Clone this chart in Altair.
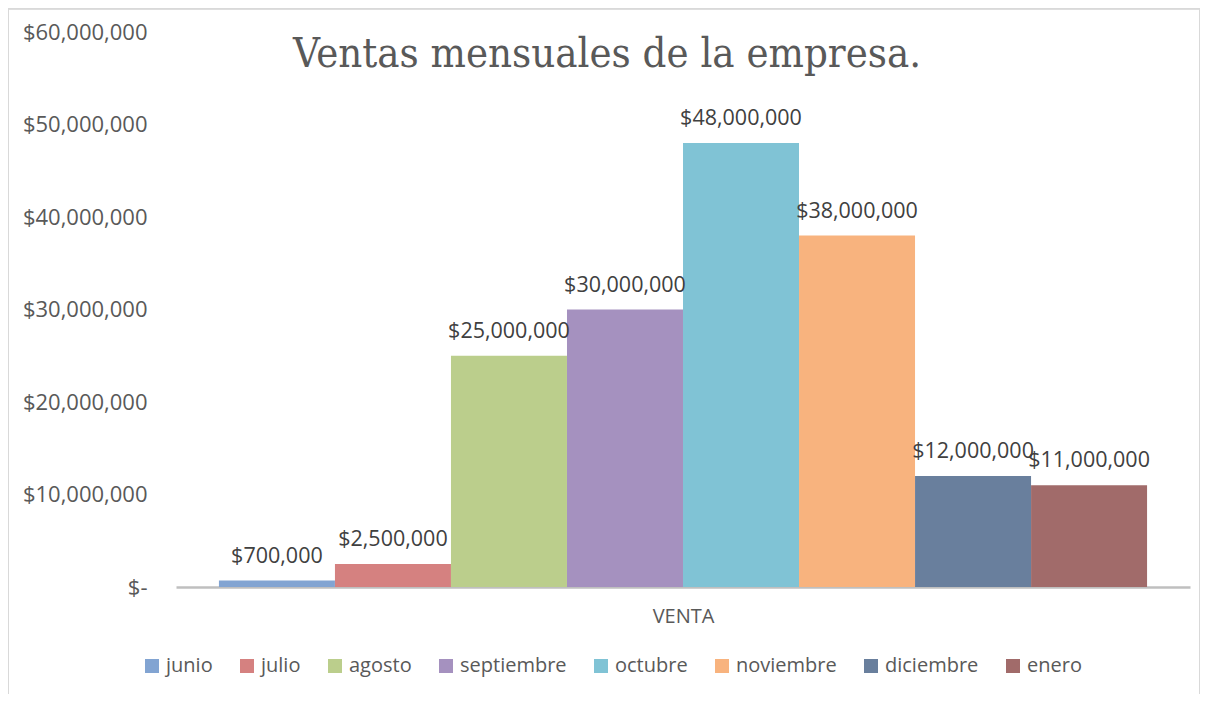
import altair as alt
import pandas as pd

months = ["junio", "julio", "agosto", "septiembre", "octubre", "noviembre", "diciembre", "enero"]
sales = [700000, 2500000, 25000000, 30000000, 48000000, 38000000, 12000000, 11000000]
labels = ["$700,000", "$2,500,000", "$25,000,000", "$30,000,000", "$48,000,000",
          "$38,000,000", "$12,000,000", "$11,000,000"]
colors = ["#82A4D2", "#D58180", "#BBCE8C", "#A591BF", "#80C3D5", "#F8B37E", "#697F9D", "#A16B6A"]
y_ticks = [0, 10000000, 20000000, 30000000, 40000000, 50000000, 60000000]

df = pd.DataFrame({"mes": months, "venta": sales, "etiqueta": labels})

FONT = "Open Sans"
GREY = "#595959"

x_enc = alt.X(
    "mes:N",
    sort=months,
    scale=alt.Scale(paddingInner=0, paddingOuter=0.37),
    axis=alt.Axis(
        title="VENTA", labels=False, ticks=False,
        domainColor="#BFBFBF", domainWidth=2.5,
        titleFont=FONT, titleFontSize=20, titleFontWeight="normal",
        titleColor=GREY, titlePadding=19,
    ),
)
y_enc = alt.Y(
    "venta:Q",
    scale=alt.Scale(domain=[0, 60000000], nice=False),
    axis=alt.Axis(
        title=None, values=y_ticks, grid=False, domain=False, ticks=False,
        labelFont=FONT, labelFontSize=22, labelColor=GREY, labelPadding=29,
        labelExpr="datum.value == 0 ? '$-' : '$' + format(datum.value, ',')",
    ),
)

bars = alt.Chart(df).mark_bar(size=116).encode(
    x=x_enc,
    y=y_enc,
    color=alt.Color(
        "mes:N",
        sort=months,
        scale=alt.Scale(domain=months, range=colors),
        legend=alt.Legend(
            title=None, orient="none", legendX=-34, legendY=624,
            direction="horizontal", symbolType="square", symbolSize=196,
            symbolStrokeWidth=0, labelFont=FONT, labelFontSize=20,
            labelColor=GREY, labelOffset=4, columnPadding=24,
        ),
    ),
)

text = alt.Chart(df).mark_text(
    baseline="bottom", dy=-13, font=FONT, fontSize=21.5, color="#404040"
).encode(
    x=alt.X("mes:N", sort=months),
    y="venta:Q",
    text="etiqueta:N",
)

frame = alt.Chart(df).mark_rect(
    fill=None, stroke="#D9D9D9", strokeWidth=1.5, clip=False
).encode(
    x=alt.value(-168), x2=alt.value(1024), y=alt.value(-23.5), y2=alt.value(700)
)

chart = alt.layer(frame, bars, text).properties(
    width=1014,
    height=555,
    autosize=alt.AutoSizeParams(type="none"),
    padding={"left": 168, "top": 24, "right": 10, "bottom": 107},
    title=alt.TitleParams(
        "Ventas mensuales de la empresa.",
        font="DejaVu Serif Condensed, Liberation Serif", fontSize=41.5, fontWeight="normal",
        color=GREY, anchor="middle", frame="group", dx=-76, dy=101,
        baseline="alphabetic", offset=0,
    ),
).configure_view(stroke=None)

chart.save("out.html", embed_options={"renderer": "svg", "actions": False})
